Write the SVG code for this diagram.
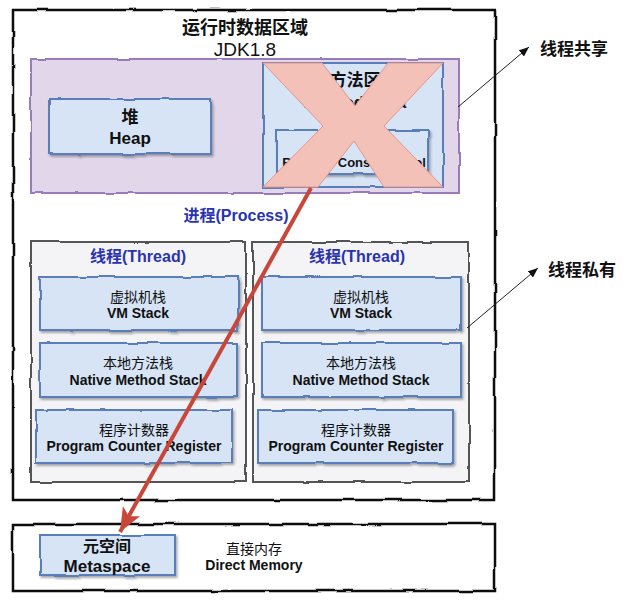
<svg xmlns="http://www.w3.org/2000/svg" width="640" height="601" viewBox="0 0 640 601">
<defs>
<filter id="rough" x="-5%" y="-5%" width="110%" height="110%">
<feTurbulence type="fractalNoise" baseFrequency="0.035" numOctaves="2" seed="4" result="n"/>
<feDisplacementMap in="SourceGraphic" in2="n" scale="3" xChannelSelector="R" yChannelSelector="G"/>
</filter>
<filter id="roughsh" x="-5%" y="-10%" width="112%" height="125%">
<feTurbulence type="fractalNoise" baseFrequency="0.035" numOctaves="2" seed="7" result="n"/>
<feDisplacementMap in="SourceGraphic" in2="n" scale="3" xChannelSelector="R" yChannelSelector="G" result="d"/>
<feDropShadow in="d" dx="1.5" dy="2" stdDeviation="1" flood-color="#444" flood-opacity="0.45"/>
</filter>
<marker id="blk" viewBox="0 0 10 8" refX="10" refY="4" markerWidth="10" markerHeight="8" markerUnits="userSpaceOnUse" orient="auto">
<path d="M0,0 L10,4 L0,8 z" fill="#111"/>
</marker>
<marker id="red" viewBox="0 0 24 20" refX="24" refY="10" markerWidth="24" markerHeight="20" markerUnits="userSpaceOnUse" orient="auto">
<path d="M0,0 L24,10 L0,20 L6,10 z" fill="#c8463a"/>
</marker>
</defs>
<style>
.outer{fill:#fff;stroke:#111;stroke-width:2.5}
.purple{fill:#e2d6ea;stroke:#9a7cbc;stroke-width:2}
.blue{fill:#d6e4f6;stroke:#5a7dbb;stroke-width:2}
.thread{fill:#f4f4f6;stroke:#555;stroke-width:2}
text{font-family:"Liberation Sans","Noto Sans CJK SC",sans-serif;text-anchor:middle;dominant-baseline:central;fill:#111}
.title{font-size:18px;font-weight:bold}
.big{font-size:17px;font-weight:bold}
.blu{font-size:16px;font-weight:bold;fill:#2a33b0}
.cn{font-size:14px;font-family:"Noto Sans CJK SC",sans-serif}
.en{font-size:14px;font-weight:bold}
.side{font-size:17px;font-weight:bold;font-family:"Noto Sans CJK SC",sans-serif}
</style>
<rect width="640" height="601" fill="#fff"/>

<g id="runtime-data-area">
<rect class="outer" x="13" y="10" width="482" height="490" filter="url(#rough)"/>
<text class="title" x="245" y="28" font-family="Noto Sans CJK SC">运行时数据区域</text>
<text class="title" x="245" y="49" style="font-weight:normal;font-size:19px">JDK1.8</text>
</g>

<g id="shared-area">
<rect class="purple" x="31" y="59" width="428" height="134" filter="url(#rough)"/>
</g>

<g id="heap">
<rect class="blue" x="49" y="99" width="162" height="55" filter="url(#roughsh)"/>
<text class="big" x="130" y="117" font-family="Noto Sans CJK SC">堆</text>
<text class="big" x="130" y="138">Heap</text>
</g>

<g id="method-area">
<rect class="blue" x="263" y="63" width="180" height="124" filter="url(#rough)"/>
<text class="big" x="355" y="80" font-family="Noto Sans CJK SC">方法区</text>
<text class="big" x="355" y="102">Method Area</text>
<rect class="blue" x="277" y="130" width="151" height="44" filter="url(#roughsh)"/>
<text class="en" x="354" y="162" style="font-size:13px">Runtime Constant Pool</text>
<polygon points="263,63 322,63 355,106 388,63 443,63 384,126 443,187 384,187 354,141 318,187 263,187 323,126" fill="#f4c1b8" stroke="#e3968a" stroke-width="1"/>
</g>

<g id="process-label">
<text class="blu" x="236" y="215">进程(Process)</text>
</g>

<g id="thread-1">
<rect class="thread" x="31" y="242" width="215" height="240" filter="url(#rough)"/>
<text class="blu" x="138" y="256">线程(Thread)</text>
<rect class="blue" x="40" y="277" width="198" height="53" filter="url(#roughsh)"/>
<text class="cn" x="138" y="296">虚拟机栈</text>
<text class="en" x="138" y="313">VM Stack</text>
<rect class="blue" x="40" y="343" width="197" height="54" filter="url(#roughsh)"/>
<text class="cn" x="138" y="362">本地方法栈</text>
<text class="en" x="138" y="380">Native Method Stack</text>
<rect class="blue" x="36" y="410" width="196" height="53" filter="url(#roughsh)"/>
<text class="cn" x="134" y="429">程序计数器</text>
<text class="en" x="134" y="446">Program Counter Register</text>
</g>

<g id="thread-2">
<rect class="thread" x="253" y="242" width="216" height="240" filter="url(#rough)"/>
<text class="blu" x="357" y="256">线程(Thread)</text>
<rect class="blue" x="262" y="277" width="199" height="53" filter="url(#roughsh)"/>
<text class="cn" x="361" y="296">虚拟机栈</text>
<text class="en" x="361" y="313">VM Stack</text>
<rect class="blue" x="262" y="343" width="199" height="54" filter="url(#roughsh)"/>
<text class="cn" x="361" y="362">本地方法栈</text>
<text class="en" x="361" y="380">Native Method Stack</text>
<rect class="blue" x="258" y="410" width="195" height="53" filter="url(#roughsh)"/>
<text class="cn" x="356" y="429">程序计数器</text>
<text class="en" x="356" y="446">Program Counter Register</text>
</g>

<g id="direct-memory">
<rect class="outer" x="13" y="524" width="482" height="67" filter="url(#rough)"/>
<text class="cn" x="254" y="548">直接内存</text>
<text class="en" x="254" y="565">Direct Memory</text>
</g>

<g id="metaspace">
<rect class="blue" x="40" y="535" width="135" height="40" filter="url(#roughsh)"/>
<text class="big" x="107" y="546" style="font-size:16px" font-family="Noto Sans CJK SC">元空间</text>
<text class="big" x="107" y="566">Metaspace</text>
</g>

<g id="label-shared">
<text class="side" x="574" y="47">线程共享</text>
</g>
<g id="label-private">
<text class="side" x="582" y="268">线程私有</text>
</g>

<g id="connectors">
<line x1="458" y1="107" x2="529" y2="47" stroke="#222" stroke-width="1" marker-end="url(#blk)"/>
<line x1="467" y1="328" x2="538" y2="268" stroke="#222" stroke-width="1" marker-end="url(#blk)"/>
<line x1="311" y1="188" x2="120" y2="532" stroke="#c8463a" stroke-width="4" marker-end="url(#red)"/>
</g>
</svg>
